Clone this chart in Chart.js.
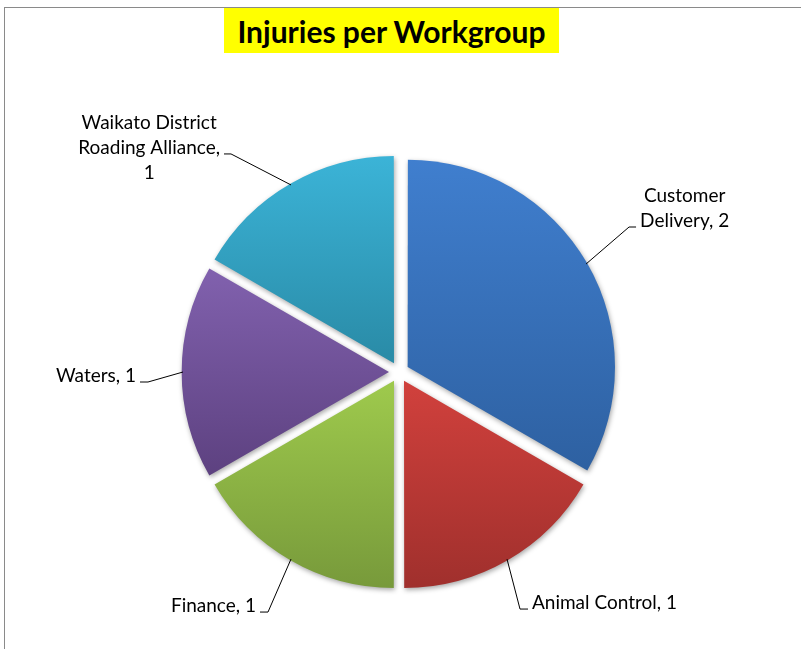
<!DOCTYPE html>
<html>
<head>
<meta charset="utf-8">
<script src="https://cdn.jsdelivr.net/npm/chart.js"></script>
<style>
  html, body { margin: 0; padding: 0; background: #fff; }
  #wrap { position: relative; width: 801px; height: 649px; overflow: hidden; }
  #frame { position: absolute; left: 4px; top: 7px; right: -10px; bottom: -10px;
           border-left: 1px solid #8a8a8a; border-top: 1px solid #8a8a8a; }
  #title { position: absolute; left: 224px; top: 8px; width: 335px; height: 45px;
           background: #ffff00; font: bold 30px Lato, sans-serif; color: #000;
           line-height: 46px; text-align: center; letter-spacing: 0; }
  canvas { position: absolute; left: 0; top: 0; }
</style>
</head>
<body>
<div id="wrap">
  <div id="frame"></div>
  <canvas id="chart" width="801" height="649"></canvas>
  <div id="title">Injuries per Workgroup</div>
</div>
<script>
// Datos del gráfico
const categories = ['Customer Delivery', 'Animal Control', 'Finance', 'Waters', 'Waikato District Roading Alliance'];
const injuries = [2, 1, 1, 1, 1];
// Líneas de texto de cada etiqueta
const labelLines = [
  ['Customer', 'Delivery, 2'],
  ['Animal Control, 1'],
  ['Finance, 1'],
  ['Waters, 1'],
  ['Waikato District', 'Roading Alliance,', '1']
];
// Colores (arriba, abajo) del degradado de cada porción
const topColors = ['#407fcf', '#cf403c', '#9dc84c', '#8161ae', '#3cb5d9'];
const bottomColors = ['#2e61a2', '#9e2f2c', '#76983a', '#5d4180', '#2a8ca8'];

// Colocación de las etiquetas: codo relativo al punto de anclaje, cola horizontal, línea a la que se une
const labelPlace = [
  { dx: 43, dy: -37, tail: 7, line: 1 },
  { dx: 13, dy: 50, tail: 8, line: 0 },
  { dx: -23, dy: 53, tail: -8, line: 0 },
  { dx: -35, dy: 10, tail: -8, line: 0 },
  { dx: -60, dy: -31, tail: -7, line: 1 }
];

const OFFSET = 40;
const LABEL_FONT = '19px Lato, sans-serif';

// Límites verticales de un sector (para el degradado)
function sectorBounds(el) {
  const mid = (el.startAngle + el.endAngle) / 2;
  const d = OFFSET / 4;
  const cx = el.x + Math.cos(mid) * d;
  const cy = el.y + Math.sin(mid) * d;
  let ys = [cy];
  for (let a = el.startAngle; a <= el.endAngle; a += 0.02) ys.push(cy + Math.sin(a) * el.outerRadius);
  ys.push(cy + Math.sin(el.endAngle) * el.outerRadius);
  return [Math.min(...ys), Math.max(...ys)];
}

function sliceColor(ctx) {
  const el = ctx.element;
  const i = ctx.dataIndex;
  if (!el || el.outerRadius === undefined || isNaN(el.outerRadius)) return topColors[i];
  const [y0, y1] = sectorBounds(el);
  const g = ctx.chart.ctx.createLinearGradient(0, y0, 0, y1);
  g.addColorStop(0, topColors[i]);
  g.addColorStop(1, bottomColors[i]);
  return g;
}

// Sombra suave bajo las porciones
const shadowPlugin = {
  id: 'shadow',
  beforeDatasetDraw(chart) {
    const c = chart.ctx;
    c.save();
    c.shadowColor = 'rgba(0,0,0,0.35)';
    c.shadowBlur = 5;
    c.shadowOffsetX = 1;
    c.shadowOffsetY = 2;
  },
  afterDatasetDraw(chart) {
    chart.ctx.restore();
  }
};

// Etiquetas con líneas guía
const labelPlugin = {
  id: 'leaderLabels',
  afterDatasetsDraw(chart) {
    const c = chart.ctx;
    const meta = chart.getDatasetMeta(0);
    c.save();
    c.font = LABEL_FONT;
    c.fillStyle = '#000';
    c.strokeStyle = '#000';
    c.lineWidth = 1;
    c.textBaseline = 'middle';
    c.textAlign = 'center';
    meta.data.forEach((el, i) => {
      const mid = (el.startAngle + el.endAngle) / 2;
      const d = OFFSET / 4;
      const ax = el.x + Math.cos(mid) * (d + el.outerRadius);
      const ay = el.y + Math.sin(mid) * (d + el.outerRadius);
      const p = labelPlace[i];
      const ex = ax + p.dx, ey = ay + p.dy;
      const tx = ex + p.tail;
      c.beginPath();
      c.moveTo(ax, ay);
      c.lineTo(ex, ey);
      c.lineTo(tx, ey);
      c.stroke();
      const lines = labelLines[i];
      const w = c.measureText(lines[p.line]).width;
      const cx = p.tail > 0 ? tx + 4 + w / 2 : tx - 4 - w / 2;
      const lh = 25;
      const lineY0 = ey - 6 - p.line * lh;
      lines.forEach((t, k) => c.fillText(t, cx, lineY0 + k * lh));
    });
    c.restore();
  }
};

const chart = new Chart(document.getElementById('chart'), {
  type: 'pie',
  data: {
    labels: categories,
    datasets: [{
      data: injuries,
      backgroundColor: sliceColor,
      borderWidth: 0,
      offset: OFFSET
    }]
  },
  options: {
    responsive: false,
    animation: false,
    layout: { padding: { top: 146, bottom: 51, left: 100, right: 103 } },
    plugins: {
      legend: { display: false },
      title: { display: false },
      tooltip: { enabled: false }
    }
  },
  plugins: [shadowPlugin, labelPlugin]
});
// Segunda actualización para que los degradados conozcan la geometría
chart.update();
</script>
</body>
</html>
